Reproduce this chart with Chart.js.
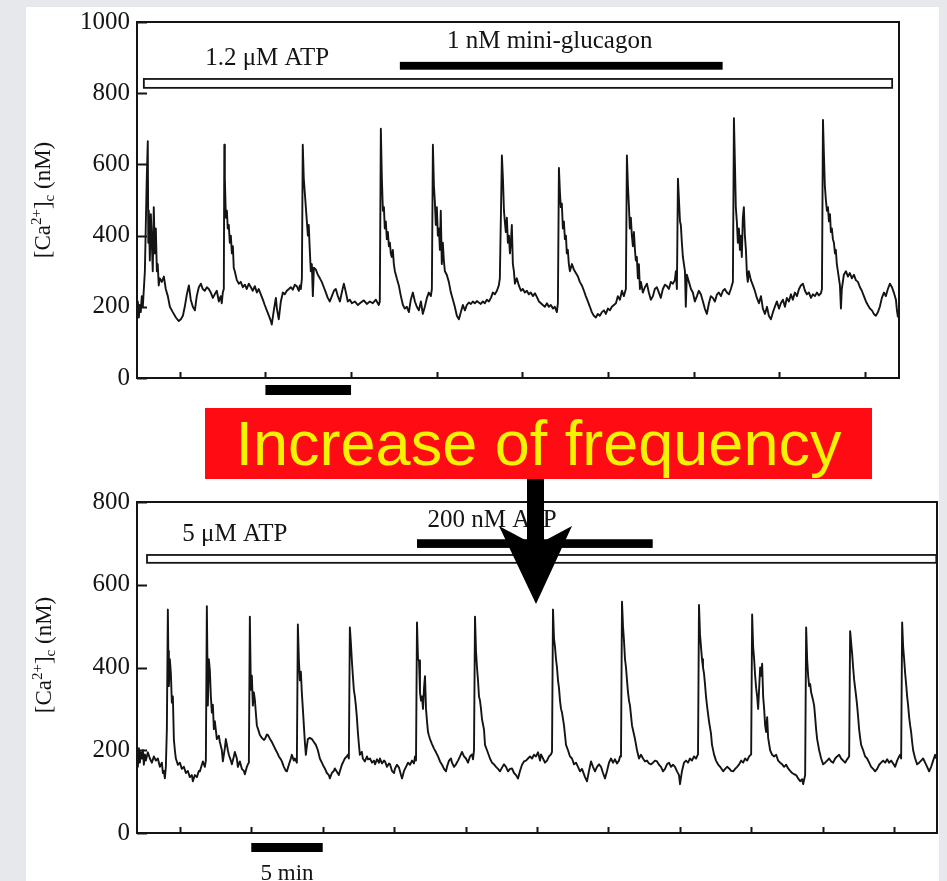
<!DOCTYPE html>
<html>
<head>
<meta charset="utf-8">
<script src="https://cdn.jsdelivr.net/npm/chart.js@4/dist/chart.umd.min.js"></script>
<style>
  html, body { margin: 0; padding: 0; }
  body { width: 947px; height: 881px; background: #e6e8eb; position: relative; overflow: hidden; }
  #sheet { position: absolute; left: 26px; top: 7px; width: 913px; height: 880px; background: #fff; }
  .panel { position: absolute; left: 0; width: 947px; }
  #topPanel { top: 0; height: 400px; }
  #bottomPanel { top: 480px; height: 401px; }
  #banner {
    position: absolute; left: 205px; top: 408px; width: 667px; height: 71px;
    background: #ff0b13; color: #f4f400; text-align: center; white-space: nowrap;
    font: 63px/71px "Liberation Sans", Arial, sans-serif;
  }
  #arrow { position: absolute; left: 0; top: 0; pointer-events: none; }
</style>
</head>
<body>
<div id="sheet"></div>
<div class="panel" id="topPanel"><canvas id="topChart" width="947" height="400"></canvas></div>
<div class="panel" id="bottomPanel"><canvas id="bottomChart" width="947" height="401"></canvas></div>
<div id="banner">Increase of frequency</div>
<svg id="arrow" width="947" height="881">
  <polygon points="527,479 544,479 544,541 572,526 536,604 499,526 527,541" fill="#000"/>
</svg>
<script>
// ---- Recordings: [time (min), cytosolic Ca2+ (nM)] ----
const topTrace = [
[-2.50,180],[-2.45,215],[-2.39,170],[-2.34,205],[-2.28,185],[-2.22,230],[-2.16,200],[-2.10,250],[-2.04,300],[-1.99,420],[-1.93,560],[-1.87,665],[-1.84,380],[-1.81,470],[-1.75,330],[-1.69,460],[-1.64,390],[-1.58,300],[-1.52,480],[-1.46,350],[-1.40,420],[-1.34,300],[-1.29,320],[-1.23,260],[-1.17,280],[-1.05,270],[-0.93,285],[-0.82,250],[-0.70,230],[-0.58,200],[-0.41,185],[-0.23,170],[-0.06,160],[0.06,165],[0.18,175],[0.29,200],[0.41,235],[0.53,260],[0.64,220],[0.76,200],[0.88,190],[0.99,230],[1.11,255],[1.23,265],[1.34,250],[1.46,245],[1.58,255],[1.69,250],[1.81,240],[1.93,225],[2.04,235],[2.16,245],[2.28,215],[2.39,230],[2.45,210],[2.51,240],[2.57,250],
[2.60,655],[2.63,560],[2.69,450],[2.75,470],[2.80,420],[2.86,430],[2.92,380],[2.98,400],[3.04,350],[3.10,370],[3.15,310],[3.21,300],[3.33,275],[3.45,265],[3.56,270],[3.68,255],[3.80,262],[3.91,250],[4.03,265],[4.15,255],[4.26,245],[4.38,258],[4.50,240],[4.61,250],[4.73,235],[4.85,220],[4.96,205],[5.08,190],[5.20,175],[5.32,160],[5.37,150],[5.49,190],[5.61,225],[5.67,195],[5.78,165],[5.90,215],[6.02,240],[6.13,235],[6.25,245],[6.37,250],[6.48,255],[6.60,248],[6.72,262],[6.83,258],[6.95,245],[7.01,260],[7.07,250],[7.13,280],
[7.18,655],[7.24,560],[7.30,520],[7.36,480],[7.42,440],[7.48,400],[7.53,430],[7.59,360],[7.65,300],[7.71,320],[7.77,230],[7.83,310],[7.94,305],[8.06,290],[8.18,280],[8.29,270],[8.41,255],[8.53,240],[8.64,225],[8.76,215],[8.88,230],[9.00,245],[9.11,250],[9.23,230],[9.35,215],[9.46,240],[9.58,265],[9.70,240],[9.81,215],[9.93,220],[10.05,210],[10.22,215],[10.40,205],[10.57,212],[10.75,218],[10.92,208],[11.10,215],[11.27,210],[11.45,220],[11.62,205],[11.68,215],
[11.74,700],[11.80,560],[11.86,470],[11.92,480],[11.97,420],[12.03,440],[12.09,390],[12.15,410],[12.21,370],[12.27,380],[12.32,350],[12.38,340],[12.44,360],[12.50,320],[12.56,300],[12.67,280],[12.79,260],[12.91,230],[13.03,205],[13.14,195],[13.26,200],[13.38,185],[13.49,220],[13.61,240],[13.73,215],[13.84,200],[13.96,190],[14.08,215],[14.19,180],[14.31,200],[14.43,225],[14.54,240],[14.66,230],[14.72,250],
[14.78,655],[14.84,540],[14.89,500],[14.95,430],[15.01,480],[15.07,400],[15.13,420],[15.19,360],[15.24,470],[15.30,320],[15.36,380],[15.42,330],[15.48,300],[15.59,290],[15.71,270],[15.83,240],[15.95,220],[16.06,200],[16.18,175],[16.30,165],[16.41,185],[16.53,205],[16.65,190],[16.76,205],[16.88,212],[17.00,208],[17.11,215],[17.23,210],[17.35,216],[17.46,212],[17.58,208],[17.70,215],[17.81,210],[17.93,220],[18.05,215],[18.17,225],[18.28,240],[18.40,235],[18.52,245],[18.63,260],[18.69,280],
[18.81,625],[18.87,560],[18.93,470],[18.98,440],[19.04,410],[19.10,450],[19.16,380],[19.22,400],[19.28,350],[19.33,380],[19.39,430],[19.45,320],[19.51,300],[19.57,265],[19.68,280],[19.80,260],[19.92,245],[20.03,250],[20.15,240],[20.27,245],[20.38,235],[20.50,240],[20.62,230],[20.74,238],[20.85,228],[20.97,215],[21.09,210],[21.20,205],[21.32,200],[21.44,210],[21.55,200],[21.67,205],[21.79,195],[21.90,200],[22.02,185],[22.08,210],
[22.14,590],[22.20,520],[22.25,480],[22.31,490],[22.37,420],[22.43,440],[22.49,390],[22.55,400],[22.60,350],[22.66,360],[22.72,320],[22.78,300],[22.90,320],[23.01,305],[23.13,295],[23.25,285],[23.36,270],[23.48,260],[23.60,245],[23.71,230],[23.83,215],[23.95,200],[24.06,185],[24.18,175],[24.30,170],[24.41,180],[24.53,175],[24.65,185],[24.77,190],[24.88,180],[25.00,195],[25.12,190],[25.23,200],[25.35,205],[25.47,210],[25.58,230],[25.70,220],[25.82,245],[25.93,230],[26.05,250],
[26.11,625],[26.17,540],[26.23,480],[26.28,420],[26.34,450],[26.40,400],[26.46,370],[26.52,410],[26.58,360],[26.63,330],[26.69,340],[26.75,280],[26.81,320],[26.87,250],[26.93,270],[27.04,240],[27.16,255],[27.28,265],[27.39,240],[27.51,220],[27.63,230],[27.74,250],[27.86,255],[27.98,240],[28.09,225],[28.21,250],[28.33,262],[28.45,258],[28.56,250],[28.68,270],[28.80,265],[28.91,275],[28.97,300],[29.03,250],
[29.09,560],[29.15,500],[29.21,440],[29.26,430],[29.32,380],[29.38,340],[29.44,320],[29.50,300],[29.55,200],[29.61,290],[29.73,270],[29.85,250],[29.96,240],[30.08,215],[30.20,230],[30.31,245],[30.43,235],[30.55,215],[30.66,195],[30.78,180],[30.90,210],[31.01,230],[31.13,225],[31.25,215],[31.37,235],[31.48,240],[31.60,230],[31.72,245],[31.83,250],[31.95,240],[32.07,235],[32.18,250],[32.30,270],
[32.36,730],[32.42,600],[32.47,480],[32.53,440],[32.59,380],[32.65,420],[32.71,360],[32.77,400],[32.82,340],[32.88,450],[32.94,480],[33.00,400],[33.06,360],[33.12,290],[33.17,270],[33.23,300],[33.35,275],[33.47,260],[33.58,245],[33.70,225],[33.82,210],[33.94,230],[34.05,195],[34.17,180],[34.29,200],[34.40,175],[34.52,165],[34.64,185],[34.75,200],[34.87,215],[34.99,195],[35.10,210],[35.22,220],[35.34,200],[35.45,225],[35.57,215],[35.69,235],[35.80,220],[35.92,240],[36.04,230],[36.16,250],[36.27,260],[36.39,265],[36.51,245],[36.62,235],[36.74,240],[36.86,225],[36.97,235],[37.09,230],[37.21,240],[37.32,232],[37.44,238],[37.50,250],
[37.56,725],[37.62,620],[37.67,540],[37.73,500],[37.79,470],[37.85,480],[37.91,440],[37.97,460],[38.02,410],[38.08,420],[38.14,390],[38.20,380],[38.26,350],[38.31,360],[38.37,320],[38.43,300],[38.55,260],[38.61,195],[38.66,250],[38.78,290],[38.90,300],[39.02,285],[39.13,295],[39.25,280],[39.37,290],[39.48,275],[39.60,270],[39.72,255],[39.83,245],[39.95,230],[40.07,215],[40.18,205],[40.30,195],[40.42,190],[40.53,180],[40.65,175],[40.77,185],[40.88,200],[41.00,225],[41.12,240],[41.23,230],[41.35,250],[41.47,265],[41.59,255],[41.70,240],[41.82,220],[41.88,190],[41.94,170]
];

const bottomTrace = [
[-3.00,190],[-2.94,160],[-2.87,205],[-2.80,170],[-2.73,195],[-2.66,180],[-2.59,200],[-2.52,165],[-2.45,190],[-2.38,175],[-2.24,195],[-2.10,180],[-1.96,170],[-1.82,185],[-1.68,175],[-1.54,180],[-1.40,160],[-1.26,170],[-1.19,145],[-1.12,150],[-1.05,132],[-0.98,160],[-0.91,250],
[-0.84,540],[-0.81,440],[-0.77,355],[-0.70,420],[-0.63,386],[-0.56,315],[-0.49,330],[-0.42,227],[-0.35,200],[-0.28,180],[-0.14,165],[0.00,170],[0.14,155],[0.28,160],[0.42,145],[0.56,150],[0.70,135],[0.84,140],[0.91,125],[1.05,140],[1.19,135],[1.33,150],[1.40,149],[1.54,165],[1.61,173],[1.75,160],[1.82,175],
[1.89,548],[1.96,308],[2.03,420],[2.10,393],[2.17,330],[2.24,291],[2.31,310],[2.38,251],[2.45,270],[2.59,227],[2.73,235],[2.80,220],[2.94,200],[3.01,173],[3.15,205],[3.22,227],[3.36,200],[3.43,189],[3.57,175],[3.64,166],[3.78,185],[3.85,196],[3.99,180],[4.06,160],[4.20,173],[4.34,155],[4.48,150],[4.55,142],[4.69,160],[4.76,166],[4.83,170],
[4.90,523],[4.97,346],[5.04,380],[5.11,308],[5.18,340],[5.25,322],[5.32,290],[5.39,260],[5.53,245],[5.60,237],[5.74,230],[5.88,225],[5.95,227],[6.09,238],[6.16,237],[6.30,228],[6.44,220],[6.58,210],[6.72,200],[6.79,196],[6.93,185],[7.07,178],[7.14,173],[7.28,160],[7.42,150],[7.49,149],[7.63,165],[7.77,180],[7.84,189],[7.98,175],[8.05,180],[8.19,170],
[8.26,504],[8.33,420],[8.40,369],[8.47,390],[8.54,338],[8.61,300],[8.68,260],[8.75,220],[8.82,189],[8.89,210],[8.96,227],[9.10,230],[9.24,227],[9.38,220],[9.52,213],[9.66,200],[9.80,180],[9.94,170],[10.08,160],[10.15,156],[10.29,145],[10.43,140],[10.50,132],[10.64,145],[10.78,150],[10.85,156],[10.99,148],[11.13,140],[11.20,149],[11.34,165],[11.48,175],[11.55,180],[11.69,185],[11.76,189],[11.83,180],
[11.90,497],[11.97,460],[12.04,417],[12.11,380],[12.18,346],[12.25,330],[12.32,308],[12.39,280],[12.46,244],[12.53,215],[12.60,189],[12.74,196],[12.81,180],[12.95,173],[13.10,185],[13.17,178],[13.31,180],[13.45,170],[13.59,175],[13.66,166],[13.80,178],[13.94,170],[14.01,180],[14.15,168],[14.29,175],[14.36,173],[14.50,160],[14.64,168],[14.71,166],[14.85,150],[14.99,145],[15.06,156],[15.20,165],[15.34,158],[15.48,140],[15.55,132],[15.69,150],[15.83,160],[15.97,170],[16.11,165],[16.25,175],[16.39,168],[16.46,185],[16.53,175],
[16.60,509],[16.67,420],[16.74,417],[16.81,340],[16.88,320],[16.95,330],[17.02,300],[17.09,350],[17.16,379],[17.23,300],[17.30,270],[17.37,244],[17.44,235],[17.51,227],[17.65,215],[17.79,204],[17.93,195],[18.07,185],[18.21,173],[18.35,165],[18.49,155],[18.63,149],[18.70,160],[18.84,175],[18.98,180],[19.05,170],[19.19,160],[19.33,166],[19.47,175],[19.61,185],[19.75,196],[19.89,185],[20.03,180],[20.17,170],[20.31,185],[20.45,190],[20.52,178],[20.59,200],
[20.66,523],[20.73,440],[20.80,400],[20.87,369],[20.94,330],[21.01,320],[21.08,300],[21.15,275],[21.29,250],[21.36,213],[21.50,200],[21.71,180],[21.85,170],[21.99,166],[22.13,160],[22.27,155],[22.41,149],[22.55,158],[22.69,166],[22.83,160],[22.97,149],[23.11,155],[23.25,156],[23.39,145],[23.53,140],[23.67,132],[23.81,150],[23.95,165],[24.09,173],[24.23,175],[24.37,180],[24.51,185],[24.65,180],[24.79,189],[24.93,185],[25.07,195],[25.21,175],[25.28,190],[25.42,180],[25.56,170],[25.70,175],[25.84,185],[25.98,190],[26.05,196],
[26.12,540],[26.19,470],[26.26,450],[26.33,420],[26.40,400],[26.47,369],[26.54,350],[26.61,320],[26.68,300],[26.75,291],[26.89,260],[27.03,213],[27.17,200],[27.31,185],[27.45,180],[27.59,166],[27.73,170],[27.87,160],[28.01,149],[28.15,155],[28.36,135],[28.50,125],[28.64,150],[28.78,173],[28.92,160],[29.06,149],[29.20,160],[29.34,166],[29.48,160],[29.62,145],[29.76,132],[29.90,150],[30.04,170],[30.18,180],[30.32,170],[30.46,178],[30.60,168],[30.74,175],[30.81,185],[30.88,190],
[30.95,559],[31.02,500],[31.09,464],[31.16,420],[31.23,400],[31.30,369],[31.37,340],[31.44,320],[31.51,308],[31.65,260],[31.86,227],[32.00,200],[32.14,180],[32.28,189],[32.42,180],[32.56,173],[32.70,175],[32.84,168],[32.98,166],[33.12,170],[33.26,175],[33.40,173],[33.54,165],[33.68,160],[33.82,149],[33.96,155],[34.10,166],[34.24,170],[34.38,160],[34.52,165],[34.66,160],[34.80,149],[34.94,140],[35.01,118],[35.15,150],[35.29,170],[35.43,175],[35.57,170],[35.71,180],[35.85,175],[35.99,185],[36.13,180],[36.27,190],
[36.34,551],[36.41,480],[36.48,450],[36.55,420],[36.62,400],[36.69,386],[36.76,360],[36.83,330],[36.90,308],[37.04,270],[37.18,240],[37.25,213],[37.39,190],[37.53,175],[37.67,166],[37.82,160],[38.03,149],[38.17,155],[38.31,160],[38.45,156],[38.59,150],[38.73,149],[38.87,155],[39.01,160],[39.15,166],[39.29,175],[39.43,170],[39.57,180],[39.71,175],[39.85,185],[39.99,190],
[40.06,528],[40.13,450],[40.20,420],[40.27,380],[40.34,350],[40.41,330],[40.48,300],[40.55,350],[40.62,400],[40.69,380],[40.76,409],[40.83,330],[40.90,300],[40.97,260],[41.04,244],[41.11,280],[41.18,230],[41.32,200],[41.46,189],[41.60,185],[41.74,189],[41.88,175],[42.02,170],[42.16,166],[42.30,160],[42.44,165],[42.58,156],[42.72,150],[42.86,145],[43.00,142],[43.14,140],[43.28,132],[43.42,125],[43.56,130],[43.63,118],[43.77,140],
[43.84,497],[43.91,420],[43.98,380],[44.05,355],[44.12,360],[44.19,340],[44.26,330],[44.33,320],[44.40,308],[44.47,280],[44.54,250],[44.61,227],[44.75,200],[44.89,180],[45.03,166],[45.17,170],[45.31,175],[45.45,180],[45.59,173],[45.73,170],[45.87,180],[46.01,185],[46.15,189],[46.29,180],[46.43,175],[46.57,170],[46.71,178],[46.85,185],
[46.92,488],[46.99,460],[47.06,433],[47.13,400],[47.20,370],[47.27,350],[47.34,330],[47.41,308],[47.48,280],[47.55,250],[47.62,230],[47.69,213],[47.83,200],[47.97,185],[48.11,180],[48.25,170],[48.39,160],[48.53,155],[48.67,149],[48.81,155],[48.95,165],[49.09,170],[49.23,175],[49.37,170],[49.51,178],[49.65,170],[49.79,175],[49.93,168],[50.07,160],[50.21,175],[50.35,185],[50.42,189],[50.49,180],
[50.56,509],[50.63,450],[50.70,420],[50.77,386],[50.84,360],[50.91,330],[50.98,308],[51.05,280],[51.12,260],[51.19,244],[51.26,220],[51.33,200],[51.47,180],[51.61,166],[51.75,170],[51.89,175],[52.03,180],[52.17,170],[52.31,160],[52.45,149],[52.59,160],[52.73,175],[52.87,189],[52.94,180]
];

// ---- Axis ticks ----
const topYTicks = [0, 200, 400, 600, 800, 1000];
const bottomYTicks = [0, 200, 400, 600, 800];
const topTimeTicks = [0, 5, 10, 15, 20, 25, 30, 35, 40];
const bottomTimeTicks = [0, 5, 10, 15, 20, 25, 30, 35, 40, 45, 50];

// ---- Treatments: name, start (min), end (min) ----
const topTreatmentName = ['1.2 μM ATP', '1 nM mini-glucagon'];
const topTreatmentStart = [-2.1, 12.85];
const topTreatmentEnd = [41.6, 31.7];
const bottomTreatmentName = ['5 μM ATP', '200 nM ATP'];
const bottomTreatmentStart = [-2.3, 16.6];
const bottomTreatmentEnd = [52.95, 33.1];

// ---- Time scale bar (min) ----
const scaleBarSpan = [5, 10];
const scaleBarLabel = '5 min';

// ---------------------------------------------------------------
const INK = '#141414';
const SERIF = '"Liberation Serif", "Times New Roman", serif';
const LABEL_SIZE = 25;
Chart.defaults.font.family = SERIF;

function drawYTitle(ctx, baseX, midY) {
  const parts = [
    { s: '[Ca', size: 23, dy: 0 },
    { s: '2+', size: 15, dy: -9 },
    { s: ']', size: 23, dy: 0 },
    { s: 'c', size: 15, dy: 4 },
    { s: ' (nM)', size: 23, dy: 0 }
  ];
  ctx.save();
  ctx.translate(baseX, midY);
  ctx.rotate(-Math.PI / 2);
  ctx.fillStyle = INK;
  ctx.textBaseline = 'alphabetic';
  ctx.textAlign = 'left';
  let total = 0;
  parts.forEach(p => { ctx.font = p.size + 'px ' + SERIF; p.w = ctx.measureText(p.s).width; total += p.w; });
  let x = -total / 2;
  parts.forEach(p => { ctx.font = p.size + 'px ' + SERIF; ctx.fillText(p.s, x, p.dy); x += p.w; });
  ctx.restore();
}

// Frame, inward ticks, treatment bars, time bar and axis title
function figureDecor(cfg) {
  return {
    id: 'figureDecor',
    afterDatasetsDraw(chart) {
      const { ctx, chartArea: a, scales: { x, y } } = chart;
      ctx.save();
      // treatment bars and their labels
      cfg.bands.forEach(b => {
        const x0 = x.getPixelForValue(b.start), x1 = x.getPixelForValue(b.end);
        const y0 = y.getPixelForValue(b.hi), y1 = y.getPixelForValue(b.lo);
        if (b.open) {
          ctx.fillStyle = '#fff';
          ctx.fillRect(x0, y0, x1 - x0, y1 - y0);
          ctx.lineWidth = 1.8;
          ctx.strokeStyle = INK;
          ctx.strokeRect(x0, y0, x1 - x0, y1 - y0);
        } else {
          ctx.fillStyle = '#000';
          ctx.fillRect(x0, y0, x1 - x0, y1 - y0);
        }
        ctx.fillStyle = INK;
        ctx.font = LABEL_SIZE + 'px ' + SERIF;
        ctx.textAlign = 'center';
        ctx.textBaseline = 'middle';
        ctx.fillText(b.name, x.getPixelForValue(b.labelT), y.getPixelForValue(b.labelV));
      });
      // plot frame
      ctx.lineWidth = 2;
      ctx.strokeStyle = INK;
      ctx.strokeRect(a.left, a.top, a.right - a.left, a.bottom - a.top);
      // inward tick marks
      ctx.beginPath();
      cfg.yTicks.forEach(v => {
        const py = Math.round(y.getPixelForValue(v)) + 0.5;
        ctx.moveTo(a.left, py); ctx.lineTo(a.left + 10, py);
      });
      cfg.timeTicks.forEach(t => {
        const px = Math.round(x.getPixelForValue(t)) + 0.5;
        ctx.moveTo(px, a.bottom); ctx.lineTo(px, a.bottom - 6);
      });
      ctx.stroke();
      // time scale bar under the axis
      const bx0 = x.getPixelForValue(scaleBarSpan[0]);
      const bx1 = x.getPixelForValue(scaleBarSpan[1]);
      ctx.fillStyle = '#000';
      ctx.fillRect(bx0, a.bottom + cfg.barOffset, bx1 - bx0, cfg.barThick);
      if (cfg.barLabel) {
        ctx.fillStyle = INK;
        ctx.font = '23px ' + SERIF;
        ctx.textAlign = 'center';
        ctx.textBaseline = 'middle';
        ctx.fillText(scaleBarLabel, (bx0 + bx1) / 2, a.bottom + 41);
      }
      // y axis title
      drawYTitle(ctx, cfg.titleX, a.top + cfg.titleMid);
      ctx.restore();
    }
  };
}

function makeChart(id, trace, cfg) {
  return new Chart(document.getElementById(id), {
    type: 'line',
    data: {
      datasets: [{
        data: trace.map(([t, v]) => ({ x: t, y: v })),
        borderColor: INK,
        borderWidth: 1.9,
        borderJoinStyle: 'round',
        pointRadius: 0,
        tension: 0,
        fill: false
      }]
    },
    options: {
      responsive: false,
      animation: false,
      events: [],
      layout: { padding: { top: 15, right: cfg.padRight, left: 0, bottom: 0 } },
      plugins: { legend: { display: false }, tooltip: { enabled: false } },
      scales: {
        x: {
          type: 'linear', min: cfg.xMin, max: cfg.xMax,
          ticks: { display: false },
          grid: { display: false, drawTicks: false },
          border: { display: false },
          afterFit: s => { s.height = cfg.xAxisHeight; }
        },
        y: {
          min: 0, max: cfg.yMax,
          afterBuildTicks: s => { s.ticks = cfg.yTicks.map(v => ({ value: v })); },
          ticks: { color: INK, padding: 7, font: { family: SERIF, size: LABEL_SIZE }, callback: v => String(v) },
          grid: { display: false, drawTicks: false },
          border: { display: false },
          afterFit: s => { s.width = 137; }
        }
      }
    },
    plugins: [figureDecor(cfg)]
  });
}

makeChart('topChart', topTrace, {
  xMin: -2.5, xMax: 42, yMax: 1000, padRight: 48, xAxisHeight: 22,
  yTicks: topYTicks, timeTicks: topTimeTicks,
  bands: [
    { name: topTreatmentName[0], start: topTreatmentStart[0], end: topTreatmentEnd[0], lo: 815, hi: 840, open: true, labelT: 5.1, labelV: 898 },
    { name: topTreatmentName[1], start: topTreatmentStart[1], end: topTreatmentEnd[1], lo: 866, hi: 888, open: false, labelT: 21.6, labelV: 945 }
  ],
  barOffset: 7, barThick: 10, barLabel: false,
  titleX: 50, titleMid: 178
});

makeChart('bottomChart', bottomTrace, {
  xMin: -3, xMax: 53, yMax: 800, padRight: 10, xAxisHeight: 48,
  yTicks: bottomYTicks, timeTicks: bottomTimeTicks,
  bands: [
    { name: bottomTreatmentName[0], start: bottomTreatmentStart[0], end: bottomTreatmentEnd[0], lo: 653, hi: 672, open: true, labelT: 3.85, labelV: 721 },
    { name: bottomTreatmentName[1], start: bottomTreatmentStart[1], end: bottomTreatmentEnd[1], lo: 689, hi: 710, open: false, labelT: 21.85, labelV: 755 }
  ],
  barOffset: 10, barThick: 9, barLabel: true,
  titleX: 51, titleMid: 153
});
</script>
</body>
</html>
